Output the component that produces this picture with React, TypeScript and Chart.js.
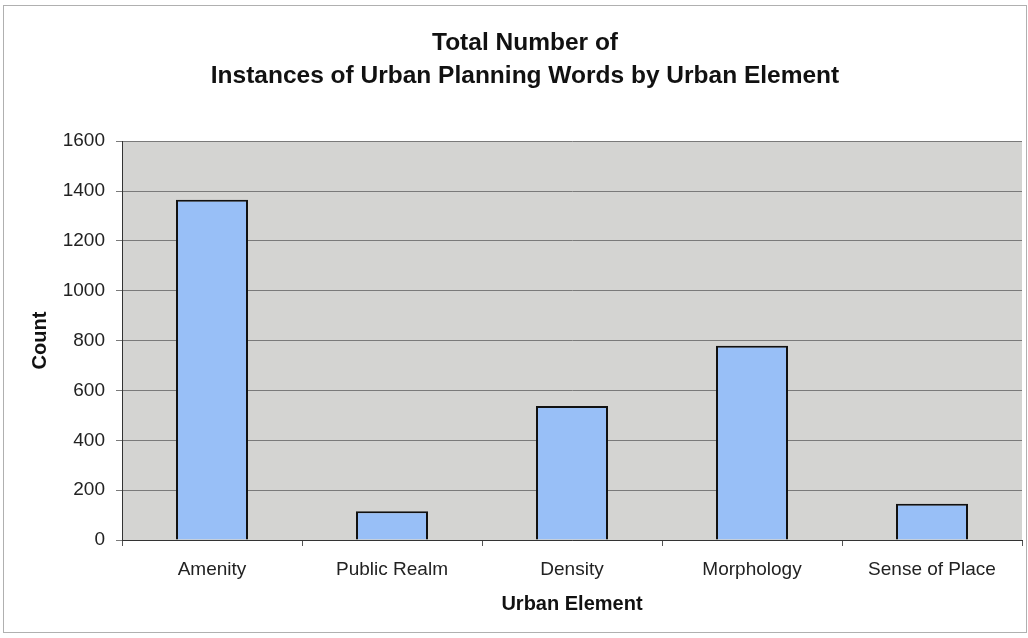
import React, { useEffect, useRef } from "react";
import { Chart, registerables } from "chart.js";

Chart.register(...registerables);

const categories = ["Amenity", "Public Realm", "Density", "Morphology", "Sense of Place"];
const counts = [1365, 115, 538, 779, 145];
const titleLines = ["Total Number of", "Instances of Urban Planning Words by Urban Element"];
const yTitle = "Count";
const xTitle = "Urban Element";

const FONT = "'Liberation Sans', Arial, sans-serif";

const framePlugin = {
  id: "frame",
  beforeDraw(chart: any) {
    const { ctx, chartArea } = chart;
    ctx.save();
    ctx.fillStyle = "#ffffff";
    ctx.fillRect(0, 0, chart.width, chart.height);
    ctx.strokeStyle = "#b0b0b0";
    ctx.lineWidth = 1;
    ctx.strokeRect(3.5, 5.5, chart.width - 5, chart.height - 11);
    ctx.fillStyle = "#d4d4d2";
    ctx.fillRect(chartArea.left, chartArea.top, chartArea.right - chartArea.left, chartArea.bottom - chartArea.top);
    ctx.restore();
  },
};

export default function App() {
  const ref = useRef<HTMLCanvasElement>(null);
  useEffect(() => {
    if (!ref.current) return;
    const chart = new Chart(ref.current, {
      type: "bar",
      data: {
        labels: categories,
        datasets: [
          {
            data: counts,
            backgroundColor: "#98bff7",
            borderColor: "#111111",
            borderWidth: 2,
            barPercentage: 0.8,
            categoryPercentage: 0.5,
          },
        ],
      },
      plugins: [framePlugin],
      options: {
        responsive: false,
        animation: false,
        devicePixelRatio: 1,
        layout: { padding: { top: 10, left: 28, right: 6, bottom: 18 } },
        plugins: {
          legend: { display: false },
          tooltip: { enabled: false },
          title: {
            display: true,
            text: titleLines,
            color: "#111111",
            font: { family: FONT, size: 24.5, weight: "bold", lineHeight: 1.35 },
            padding: { top: 17, bottom: 48 },
          },
        },
        scales: {
          y: {
            min: 0,
            max: 1600,
            ticks: {
              stepSize: 200,
              color: "#222222",
              font: { family: FONT, size: 19 },
              padding: 11,
              callback: (v: any) => String(v),
            },
            grid: { color: "#7a7a7a", lineWidth: 1, tickLength: 6, drawTicks: true },
            border: { color: "#333333", width: 1 },
            title: {
              display: true,
              text: yTitle,
              color: "#111111",
              font: { family: FONT, size: 20, weight: "bold" },
              padding: { top: 0, bottom: 14 },
            },
            afterFit(scale: any) {
              scale.width = 94;
            },
          },
          x: {
            ticks: { color: "#222222", font: { family: FONT, size: 19 }, padding: 12 },
            grid: { drawOnChartArea: false, drawTicks: true, tickLength: 6, color: "#555555", offset: true },
            border: { color: "#333333", width: 1 },
            title: {
              display: true,
              text: xTitle,
              color: "#111111",
              font: { family: FONT, size: 20, weight: "bold" },
              padding: { top: 10, bottom: 4 },
            },
            afterFit(scale: any) {
              scale.height = 80;
            },
          },
        },
      },
    });
    return () => chart.destroy();
  }, []);
  return (
    <div style={{ position: "fixed", left: 0, top: 0, width: 1028, height: 638, background: "#fff" }}>
      <canvas ref={ref} width={1028} height={638} style={{ display: "block", width: 1028, height: 638 }} />
    </div>
  );
}
